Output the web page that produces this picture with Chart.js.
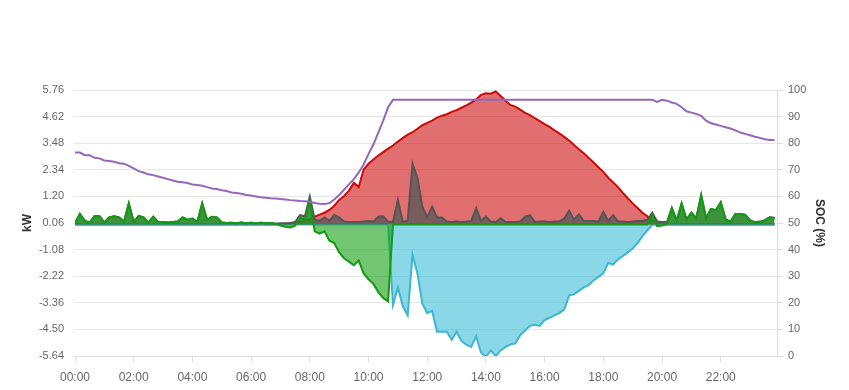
<!DOCTYPE html>
<html><head><meta charset="utf-8">
<script src="https://cdn.jsdelivr.net/npm/chart.js@4/dist/chart.umd.min.js"></script>
<style>html,body{margin:0;padding:0;background:#fff}</style>
</head><body>
<canvas id="c" width="849" height="390"></canvas>
<script>
// time of day in minutes, one sample every 10 minutes (00:00 .. 23:50)
const times = [];
for (let i = 0; i < 144; i++) times.push(i * 10);

const kwTicks = [-5.64, -4.50, -3.36, -2.22, -1.08, 0.06, 1.20, 2.34, 3.48, 4.62, 5.76];
const socTicks = [0, 10, 20, 30, 40, 50, 60, 70, 80, 90, 100];
const timeTicks = [0, 120, 240, 360, 480, 600, 720, 840, 960, 1080, 1200, 1320];

// Battery state of charge (%)
const soc = [
76.5,76.5,75.5,75.5,74.5,74.3,73.5,73.3,73,72.5,72.3,71.5,
70.5,69.5,69,68.3,68,67.5,67,66.5,66,65.5,65.3,65,
64.5,64.3,64,63.5,63,62.8,62.3,62,61.5,61.3,61,60.5,
60.3,60,59.7,59.5,59.3,59.2,59,58.8,58.6,58.5,58.3,58.2,
58,57.5,57.2,57.1,57.5,58.8,60.5,62.5,64.5,66.5,69,72,
76,79.5,84,88.5,93.5,96.3,
96.3,96.3,96.3,96.3,96.3,96.3,96.3,96.3,96.3,96.3,
96.3,96.3,96.3,96.3,96.3,96.3,96.3,96.3,96.3,96.3,
96.3,96.3,96.3,96.3,96.3,96.3,96.3,96.3,96.3,96.3,
96.3,96.3,96.3,96.3,96.3,96.3,96.3,96.3,96.3,96.3,
96.3,96.3,96.3,96.3,96.3,96.3,96.3,96.3,96.3,96.3,
96.3,96.3,96.3,
95.5,96.3,96,95.3,94.8,93.5,92,91.5,91,90.3,88.5,87.5,87,86.5,86,85.5,84.8,84,83.5,83,82.4,82,81.5,81.2,81.2
];

// PV production (kW)
const pv = [
0,0,0,0,0,0,0,0,0,0,0,0,0,0,0,0,0,0,0,0,0,
0,0,0,0,0,0,0,0,0,0,0,0,0,0,0,0,0,0,0,0,0,
0,0.02,0.05,0.08,0.1,0.15,0.22,0.33,0.42,0.5,0.62,0.8,1.05,1.22,1.45,1.78,1.6,2.35,
2.6,2.78,2.95,3.1,3.25,3.38,3.55,3.7,3.85,3.95,4.1,4.25,4.35,4.45,4.58,4.66,4.72,4.82,
4.9,5.0,5.1,5.22,5.35,5.55,5.62,5.6,5.7,5.5,5.3,5.12,5.05,4.92,4.78,4.68,4.55,4.43,
4.3,4.18,4.03,3.9,3.75,3.6,3.4,3.22,3.05,2.85,2.65,2.45,2.25,2.0,1.8,1.6,1.35,1.12,
0.9,0.7,0.5,0.35,0.15,0.03,
0,0,0,0,0,0,0,0,0,0,0,0,0,0,0,0,0,0,0,0,0,0,0,0
];

// House consumption (kW)
const load = [
0.05,0.45,0.15,0.08,0.36,0.35,0.08,0.3,0.35,0.3,0.1,0.9,
0.1,0.36,0.3,0.08,0.33,0.1,0.1,0.08,0.1,0.12,0.3,0.2,
0.25,0.1,0.9,0.2,0.33,0.3,0.08,0.06,0.07,0.05,0.08,0.05,
0.07,0.05,0.07,0.05,0.06,0.03,
0.05,0.05,0.05,0.1,0.4,0.35,1.2,0.2,0.15,0.3,0.15,0.4,0.3,0.12,0.1,0.1,0.1,0.12,0.15,0.12,0.33,0.35,0.12,
0.1,1.05,0.12,0.15,2.6,2.0,0.76,0.3,0.76,0.3,
0.3,0.12,0.1,0.12,0.1,0.12,0.15,0.69,0.15,0.33,
0.12,0.1,0.26,0.1,0.1,0.1,0.12,0.33,0.4,0.1,
0.12,0.12,0.1,0.12,0.12,0.25,0.59,0.2,0.43,0.15,
0.15,0.15,0.12,0.54,0.15,0.4,0.12,0.12,0.1,0.12,
0.15,0.15,0.2,
0.5,0.12,0.1,0.1,0.7,0.18,0.9,0.22,0.5,0.28,1.25,0.28,0.66,0.62,0.95,0.22,0.12,0.45,0.45,0.42,0.18,0.1,0.12,0.18,0.3,0.28
];

// Battery power (kW, + discharge / - charge)
const battery = [
0.05,0.45,0.15,0.08,0.36,0.35,0.08,0.3,0.35,0.3,0.1,0.9,
0.1,0.36,0.3,0.08,0.33,0.1,0.1,0.08,0.1,0.12,0.3,0.2,
0.25,0.1,0.9,0.2,0.33,0.3,0.08,0.06,0.07,0.05,0.08,0.05,
0.07,0.05,0.07,0.05,0.06,0.03,
-0.05,-0.1,-0.13,-0.05,0.3,0.2,1.0,-0.3,-0.4,-0.3,-0.7,-0.8,-1.2,-1.45,-1.6,-1.75,-1.55,-2.1,-2.35,-2.55,-2.9,-3.15,-3.3,
0,0,0,0,0,0,0,0,0,0,0,0,0,0,0,0,0,0,0,0,0,0,0,0,0,0,
0,0,0,0,0,0,0,0,0,0,0,0,0,0,0,0,0,0,0,0,0,0,0,0,0,0,0,
0.4,-0.08,-0.05,0.02,0.7,0.15,0.9,0.2,0.5,0.25,1.25,0.25,0.66,0.6,0.95,0.2,0.1,0.45,0.45,0.4,0.15,0.08,0.1,0.15,0.3,0.25
];

// Grid feed-in (kW, negative)
const grid = [
0,0,0,0,0,0,0,0,0,0,0,0,0,0,0,0,0,0,0,0,0,0,
0,0,0,0,0,0,0,0,0,0,0,0,0,0,0,0,0,0,0,0,0,0,
0,0,0,0,0,0,0,0,0,0,0,0,0,0,0,0,0,0,0,0,0,
-3.45,-2.7,-3.5,-3.9,-1.3,-2.1,-3.4,-3.8,-3.7,-4.6,
-4.6,-4.6,-4.95,-4.6,-5.0,-5.15,-5.25,-4.8,-5.5,-5.67,
-5.4,-5.65,-5.4,-5.25,-5.15,-5.1,-4.75,-4.55,-4.35,-4.3,
-4.35,-4.1,-4.0,-3.9,-3.8,-3.65,-3.05,-3.0,-2.85,-2.7,
-2.6,-2.4,-2.25,-2.1,-1.65,-1.72,-1.5,-1.35,-1.2,-1.03,
-0.8,-0.5,-0.25,-0.02,
0,0,0,0,0,0,0,0,0,0,0,0,0,0,0,0,0,0,0,0,0,0,0,0,0
];

const FONT = "'Liberation Sans', Arial, Helvetica, sans-serif";
Chart.defaults.font.family = FONT;

function area(label, data, line, fillc, order) {
  return { label, data, borderColor: line, backgroundColor: fillc, borderWidth: 2,
    fill: 'origin', pointRadius: 0, tension: 0, yAxisID: 'y', order };
}
const pad2 = n => (n < 10 ? '0' : '') + n;

new Chart(document.getElementById('c'), {
  type: 'line',
  data: {
    labels: times,
    datasets: [
      { label: 'SOC', data: soc, borderColor: '#9467bd', borderWidth: 2, pointRadius: 0,
        fill: false, tension: 0, yAxisID: 'soc', order: 0 },
      area('Battery', battery, '#139a13', 'rgba(20,160,20,0.6)', 1),
      area('Load', load, '#555555', 'rgba(85,85,85,0.75)', 2),
      area('Grid', grid, '#3db6d0', 'rgba(60,190,215,0.6)', 3),
      area('PV', pv, '#cc0a0a', 'rgba(205,15,15,0.6)', 4)
    ]
  },
  options: {
    responsive: false,
    animation: false,
    layout: { padding: { top: 90, left: 0, right: 0, bottom: 0 } },
    plugins: { legend: { display: false }, tooltip: { enabled: false } },
    scales: {
      x: {
        type: 'linear', min: 0, max: 1435,
        afterBuildTicks: a => { a.ticks = timeTicks.map(v => ({ value: v })); },
        ticks: { callback: v => pad2(Math.round(v / 60)) + ':00', color: '#666',
          font: { size: 12 }, maxRotation: 0, autoSkip: false, padding: 8 },
        grid: { drawOnChartArea: false, drawTicks: true, tickLength: 6, color: '#dcdcdc' },
        border: { color: '#dcdcdc' },
        afterFit: s => { s.height = 34; }
      },
      y: {
        position: 'left', min: -5.64, max: 5.76,
        afterBuildTicks: a => { a.ticks = kwTicks.map(v => ({ value: v })); },
        ticks: { callback: v => v.toFixed(2), color: '#666', font: { size: 11 }, padding: 9 },
        grid: { color: '#e6e6e6', tickLength: 2 },
        border: { display: false },
        title: { display: true, text: 'kW', color: '#333', font: { size: 12, weight: 'bold' },
          padding: { top: 20, bottom: 0 } },
        afterFit: s => { s.width = 75; }
      },
      soc: {
        position: 'right', min: 0, max: 100,
        afterBuildTicks: a => { a.ticks = socTicks.map(v => ({ value: v })); },
        ticks: { color: '#666', font: { size: 11 }, padding: 5 },
        grid: { drawOnChartArea: false, tickLength: 6, color: '#dcdcdc' },
        border: { color: '#dcdcdc' },
        title: { display: true, text: 'SOC (%)', color: '#333', font: { size: 12, weight: 'bold' },
          padding: { top: 22, bottom: 0 } },
        afterFit: s => { s.width = 72; }
      }
    }
  }
});
</script>
</body></html>
